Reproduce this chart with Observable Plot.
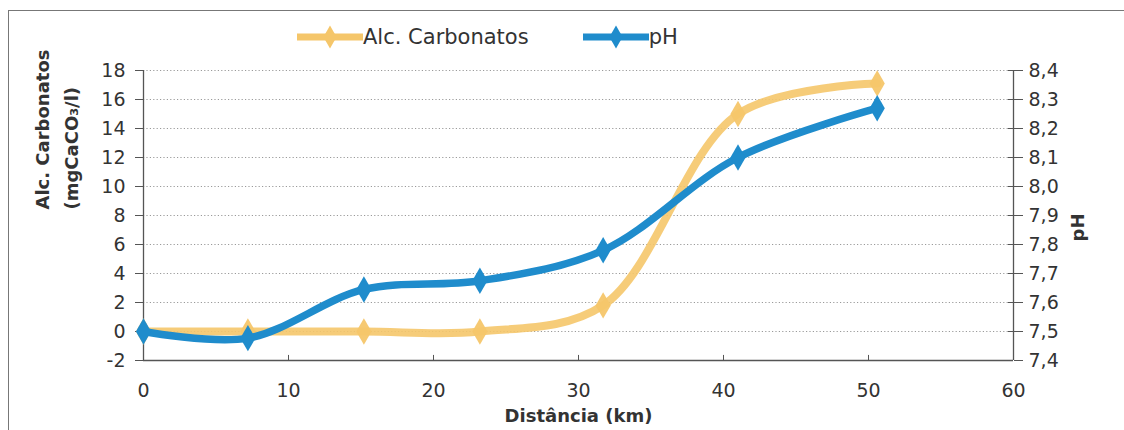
<!DOCTYPE html>
<html>
<head>
<meta charset="utf-8">
<script src="https://cdn.jsdelivr.net/npm/d3@7"></script>
<script src="https://cdn.jsdelivr.net/npm/@observablehq/plot@0.6"></script>
<style>
  html, body { margin: 0; padding: 0; background: #fff; }
  body { width: 1124px; height: 430px; overflow: hidden; position: relative; font-family: "DejaVu Sans", sans-serif; }
  #frame { position: absolute; left: 8px; top: 10px; width: 1200px; height: 500px; border: 1.5px solid #777; box-sizing: border-box; }
  #chart { position: absolute; left: 0; top: 0; }
  #legend { position: absolute; top: 22px; left: 297px; height: 30px; display: flex; align-items: center; font-size: 21px; color: #333; white-space: nowrap; }
  #legend .item { display: flex; align-items: center; }
  #legend svg { display: block; }
</style>
</head>
<body>
<div id="frame"></div>
<div id="chart"></div>
<div id="legend"></div>
<script>
// ---- data ----
const distancia     = [0, 7.2, 15.2, 23.2, 31.7, 41, 50.6];
const alcCarbonatos = [0, 0, 0, 0, 1.8, 15, 17.1];
const pH            = [7.5, 7.477, 7.645, 7.675, 7.78, 8.1, 8.27];

const xTicks      = [0, 10, 20, 30, 40, 50, 60];
const yLeftTicks  = [-2, 0, 2, 4, 6, 8, 10, 12, 14, 16, 18];
const yRightTicks = [7.4, 7.5, 7.6, 7.7, 7.8, 7.9, 8.0, 8.1, 8.2, 8.3, 8.4];

const seriesNames  = ["Alc. Carbonatos", "pH"];
const seriesColors = ["#f5c66a", "#1f8ccc"];

// pH (right axis) expressed in left-axis units: 7.4..8.4 -> -2..18
const phToLeft = p => (p - 7.5) * 20;
const leftToPh = v => v / 20 + 7.5;

const rows = distancia.map((d, i) => ({d, alc: alcCarbonatos[i], ph: pH[i]}));
const gridTicks = yLeftTicks.filter(v => v > -2);

const chart = Plot.plot({
  width: 1124,
  height: 430,
  marginTop: 70,
  marginBottom: 70,
  marginLeft: 143,
  marginRight: 111,
  style: {fontFamily: "DejaVu Sans, sans-serif", fontSize: "19px", color: "#333", background: "transparent"},
  x: {domain: [0, 60]},
  y: {domain: [-2, 18]},
  marks: [
    Plot.ruleY(gridTicks, {stroke: "#9a9a9a", strokeDasharray: "1.2,2.2", strokeWidth: 1}),
    Plot.ruleX([0, 60], {stroke: "#555", strokeWidth: 1.3}),
    Plot.ruleY([-2], {stroke: "#555", strokeWidth: 1.3}),
    // inside ticks on x axis and right axis
    Plot.ruleX(xTicks.slice(1, -1), {x: d => d, y1: -2, y2: -1.65, stroke: "#555"}),
    Plot.ruleY(yRightTicks.map(phToLeft), {y: d => d, x1: 59.65, x2: 60, stroke: "#555"}),
    Plot.axisX(xTicks, {tickSize: 0, tickPadding: 23, fontSize: 19, label: null, tickFormat: d => String(d)}),
    Plot.axisY(yLeftTicks, {anchor: "left", tickSize: 8, tickPadding: 10, fontSize: 19, stroke: "#555", label: null, tickFormat: d => String(d)}),
    Plot.axisY(yRightTicks.map(phToLeft), {anchor: "right", tickSize: 9, tickPadding: 6, fontSize: 19, stroke: "#555", label: null,
      tickFormat: v => d3.format(".1f")(leftToPh(v)).replace(".", ",")}),
    // series
    Plot.line(rows, {x: "d", y: "alc", curve: "catmull-rom", stroke: seriesColors[0], strokeWidth: 8, strokeOpacity: 0.9}),
    Plot.dot(rows, {x: "d", y: "alc", symbol: "diamond", r: 8, fill: seriesColors[0], fillOpacity: 0.95}),
    Plot.line(rows, {x: "d", y: d => phToLeft(d.ph), curve: "catmull-rom", stroke: seriesColors[1], strokeWidth: 7.5}),
    Plot.dot(rows, {x: "d", y: d => phToLeft(d.ph), symbol: "diamond", r: 8, fill: seriesColors[1]}),
    // axis titles
    Plot.text(["Alc. Carbonatos"], {frameAnchor: "left", rotate: -90, dx: -100, dy: -6, fontWeight: "bold", fontSize: 18, fill: "#333"}),
    Plot.text(["(mgCaCO₃/l)"], {frameAnchor: "left", rotate: -90, dx: -71, dy: -6, fontWeight: "bold", fontSize: 18, fill: "#333"}),
    Plot.text(["pH"], {frameAnchor: "right", rotate: -90, dx: 65, dy: -2, fontWeight: "bold", fontSize: 18, fill: "#333"}),
    Plot.text(["Distância (km)"], {frameAnchor: "bottom", lineAnchor: "middle", dy: 56, fontWeight: "bold", fontSize: 18, fill: "#333"})
  ]
});
document.getElementById("chart").appendChild(chart);

// legend
const legend = document.getElementById("legend");
const gaps = [0, 54];
seriesNames.forEach((name, i) => {
  const item = document.createElement("div");
  item.className = "item";
  item.style.marginLeft = gaps[i] + "px";
  const ns = "http://www.w3.org/2000/svg";
  const sw = document.createElementNS(ns, "svg");
  sw.setAttribute("width", 66); sw.setAttribute("height", 24);
  const ln = document.createElementNS(ns, "line");
  ln.setAttribute("x1", 0); ln.setAttribute("x2", 66); ln.setAttribute("y1", 12); ln.setAttribute("y2", 12);
  ln.setAttribute("stroke", seriesColors[i]); ln.setAttribute("stroke-width", 7);
  const mk = document.createElementNS(ns, "path");
  mk.setAttribute("d", d3.symbol(d3.symbolDiamond, 150)());
  mk.setAttribute("transform", "translate(33,12)");
  mk.setAttribute("fill", seriesColors[i]);
  sw.appendChild(ln); sw.appendChild(mk);
  const tx = document.createElement("span");
  tx.textContent = name;
  item.appendChild(sw); item.appendChild(tx);
  legend.appendChild(item);
});
</script>
</body>
</html>
